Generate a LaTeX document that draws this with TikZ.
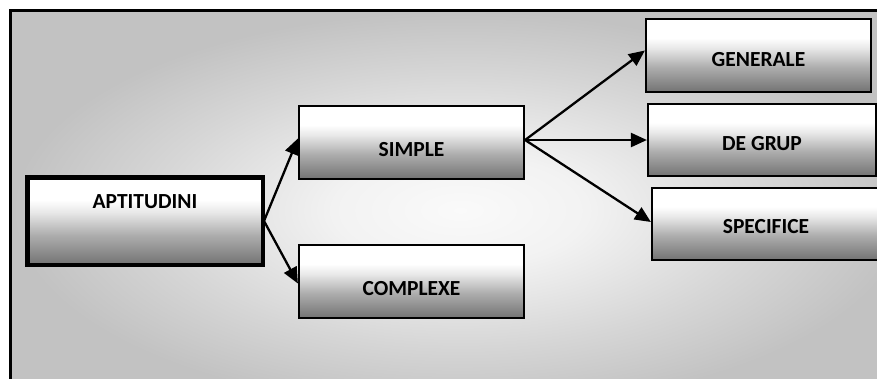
\documentclass[tikz,border=0pt]{standalone}
\usepackage{fontspec}
\setmainfont{Carlito}
\usetikzlibrary{arrows.meta}
\pgfdeclareverticalshading{boxsh}{100bp}{color(0bp)=(black!55); color(25bp)=(black!55); color(42bp)=(black!32); color(55bp)=(black!9); color(62bp)=(white); color(100bp)=(white)}
\pgfdeclareradialshading{bgsh}{\pgfpoint{0bp}{0bp}}{color(0bp)=(white!98!black); color(7bp)=(white!95!black); color(17bp)=(white!84!black); color(25bp)=(white!76!black); color(50bp)=(white!76!black)}
\tikzset{
  bx/.style={draw, line width=2.2pt, shade, shading=boxsh, minimum width=225pt, minimum height=73pt, inner sep=0pt},
  lbl/.style={font=\bfseries\fontsize{21.5}{25}\selectfont, inner sep=0pt},
  arr/.style={line width=2.3pt, -{Triangle[length=16pt,width=14pt]}}
}
\begin{document}
\begin{tikzpicture}[x=1pt,y=-1pt]
\useasboundingbox (0,0) rectangle (877,378);
\clip (0,0) rectangle (877,378);
\fill[white] (0,0) rectangle (877,378);
\shade[shading=bgsh] (10.5,10.5) rectangle (910,410);
\draw[line width=3pt] (10.5,420) -- (10.5,10.5) -- (900,10.5);
% boxes
\node[bx, line width=4.5pt, minimum width=235.5pt, minimum height=87.5pt] (apt) at (145,221) {};
\node[bx] (simple) at (411.5,142.5) {};
\node[bx] (complexe) at (411.5,281.5) {};
\node[bx] (generale) at (758.5,55.5) {};
\node[bx, minimum width=228pt, minimum height=72pt] (degrup) at (762,140) {};
\node[bx, minimum width=228pt, minimum height=72pt] (specifice) at (766,224) {};
% labels
\node[lbl] (aptT) at ([yshift=19pt]apt.center) {APTITUDINI};
\node[lbl] (simpleT) at ([yshift=-7pt]simple.center) {SIMPLE};
\node[lbl] (complexeT) at ([yshift=-7pt]complexe.center) {COMPLEXE};
\node[lbl] (generaleT) at ([yshift=-4.5pt]generale.center) {GENERALE};
\node[lbl] (degrupT) at ([yshift=-4pt]degrup.center) {DE GRUP};
\node[lbl] (specificeT) at ([yshift=-3pt]specifice.center) {SPECIFICE};
% arrows
\coordinate (sOut) at ([yshift=2.5pt]simple.east);
\draw[arr] ([xshift=-1pt]apt.east) -- ([yshift=4pt]simple.west);
\draw[arr] ([xshift=-1pt]apt.east) -- ([yshift=-2pt]complexe.west);
\draw[arr] (sOut) -- ([yshift=5pt]generale.west);
\draw[arr] (sOut) -- (degrup.west);
\draw[arr] (sOut) -- ([yshift=2pt]specifice.west);
\end{tikzpicture}
\end{document}
